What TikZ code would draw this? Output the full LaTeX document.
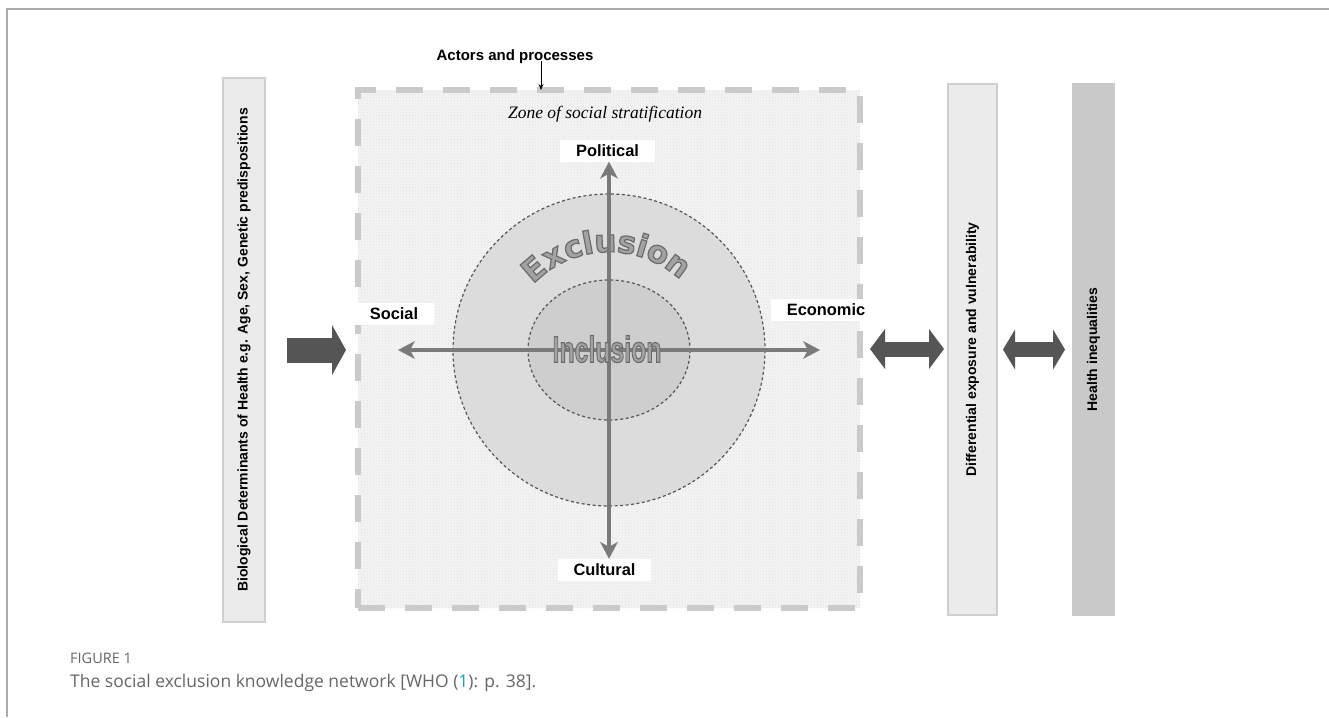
\documentclass[tikz,border=0pt]{standalone}
\usepackage{fontspec}
\usepackage{graphicx}
\setmainfont{Liberation Sans}
\newfontfamily\archfont{DejaVu Sans}
\newfontfamily\serifit{Liberation Serif}
\newfontfamily\capfont{Open Sans}
\usetikzlibrary{arrows.meta,patterns}
\definecolor{barlight}{HTML}{EBEBEB}
\definecolor{barline}{HTML}{CFCFCF}
\definecolor{bardark}{HTML}{C9C9C9}
\definecolor{zonefill}{HTML}{F4F4F4}
\definecolor{zonedot}{HTML}{E0E0E0}
\definecolor{zonedash}{HTML}{CACACA}
\definecolor{outerring}{HTML}{DCDCDC}
\definecolor{innerring}{HTML}{CECECE}
\definecolor{ringline}{HTML}{555555}
\definecolor{axisgray}{HTML}{7A7A7A}
\definecolor{fatgray}{HTML}{555555}
\definecolor{wordgray}{HTML}{A2A2A2}
\definecolor{framegray}{HTML}{AAAAAA}
\definecolor{captext}{HTML}{666666}
\definecolor{capteal}{HTML}{26A0B2}
\newcommand{\outlined}[1]{\special{pdf:literal direct 2 Tr 1.2 w 0.42 0.42 0.42 RG}#1\special{pdf:literal direct 0 Tr}}
\tikzset{
    bar/.style={draw=barline, line width=1.2pt, inner sep=0pt, outer sep=0pt, minimum width=42pt, font=\fontsize{14}{16}\selectfont\bfseries},
    axlabel/.style={fill=white, inner xsep=16pt, inner ysep=0pt, minimum height=22pt, font=\fontsize{16.4}{18}\selectfont\bfseries},
    axis/.style={draw=axisgray, line width=4pt, {Stealth[length=17pt,width=18pt,inset=5pt,line width=0pt]}-{Stealth[length=17pt,width=18pt,inset=5pt,line width=0pt]}},
    ring/.style={draw=ringline, line width=1.2pt, dash pattern=on 3pt off 2.5pt},
    fatarrow/.style={draw=fatgray, line width=25pt, -{Triangle[length=14pt,width=50pt,line width=0pt]}},
    twoway/.style={draw=fatgray, line width=15pt, {Triangle[length=#1,width=40pt,line width=0pt]}-{Triangle[length=#1,width=40pt,line width=0pt]}},
    arcletter/.style={anchor=base, inner sep=0pt, text=wordgray, font=\archfont\fontsize{31}{31}\selectfont\bfseries}
}
\begin{document}
\begin{tikzpicture}[x=1pt, y=-1pt]
        \useasboundingbox (0,0) rectangle (1329,717);
        \draw[framegray, line width=1.5pt] (7,717) -- (7,9) -- (1329,9);
        \node[bar, fill=barlight, minimum height=544pt] (bio) at (244,350) {\rotatebox{90}{Biological Determinants of Health e.g. Age, Sex, Genetic predispositions}};
        \node[bar, fill=barlight, minimum width=49pt, minimum height=531pt] (diff) at (972.5,349.5) {\rotatebox{90}{Differential exposure and vulnerability}};
        \node[bar, fill=bardark, draw=bardark, minimum width=41pt, minimum height=531pt] (health) at (1093.5,349.5) {\rotatebox{90}{Health inequalities}};
        \node[draw=zonedash, line width=6pt, dash pattern=on 27pt off 20pt, preaction={fill=zonefill}, pattern=crosshatch dots, pattern color=zonedot, minimum width=502pt, minimum height=518pt, outer sep=0pt] (zone) at (609,349) {};
        \node[font=\fontsize{15}{17}\selectfont\bfseries] (actors) at (515,57) {Actors and processes};
        \coordinate (drop) at (541,61);
        \draw[-{Stealth[length=6pt,width=5pt]}, line width=0.9pt] (drop) -- (drop |- zone.north);
        \node[font=\serifit\itshape\fontsize{17.5}{19}\selectfont] (zonename) at (605,114) {Zone of social stratification};
        \coordinate (hub) at (609,350);
        \filldraw[ring, fill=outerring] (hub) circle[radius=156];
        \filldraw[ring, fill=innerring] (hub) ellipse[x radius=81, y radius=70];
        \coordinate (arc) at (609,357);
        \foreach \ch/\ang [count=\i] in {E/130.5,x/119.0,c/108.3,l/100.6,u/91.8,s/81.0,i/73.2,o/64.7,n/53.2}
            \node[arcletter, rotate=\ang-90] (exc\i) at ([shift={(\ang:105pt)}]arc) {\outlined{\ch}};
        \node[axlabel] (political) at (607.5,150.5) {Political};
        \node[axlabel] (cultural) at (604.5,570) {Cultural};
        \node[axlabel] (social) at (394,314) {Social};
        \node[axlabel] (economic) at (826,310) {Economic};
        \coordinate (west) at (398,350);
        \coordinate (east) at (820,350);
        \draw[axis] (west) -- (east);
        \draw[axis] (hub |- cultural.north) -- (hub |- political.south);
        \node[inner sep=0pt, text=wordgray, font=\fontsize{37}{37}\selectfont\bfseries] (incl) at (607,349) {\scalebox{0.67}[1]{\outlined{Inclusion}}};
        \draw[fatarrow, shorten <=22pt, shorten >=12pt] (bio.east) -- (bio.east -| zone.west);
        \draw[twoway=15pt, shorten <=10pt, shorten >=4pt] (zone.east) -- (zone.east -| diff.west);
        \draw[twoway=12pt, shorten <=6pt, shorten >=8pt] (diff.east) -- (diff.east -| health.west);
        \node[anchor=west, inner sep=0pt, text=captext, font=\capfont\fontsize{14.5}{16}\selectfont] (fignum) at (70,658) {FIGURE 1};
        \node[anchor=west, inner sep=0pt, text=captext, font=\capfont\fontsize{17.5}{19}\selectfont] (caption) at (70,683) {The social exclusion knowledge network [WHO (\textcolor{capteal}{1}): p. 38].};
\end{tikzpicture}
\end{document}
